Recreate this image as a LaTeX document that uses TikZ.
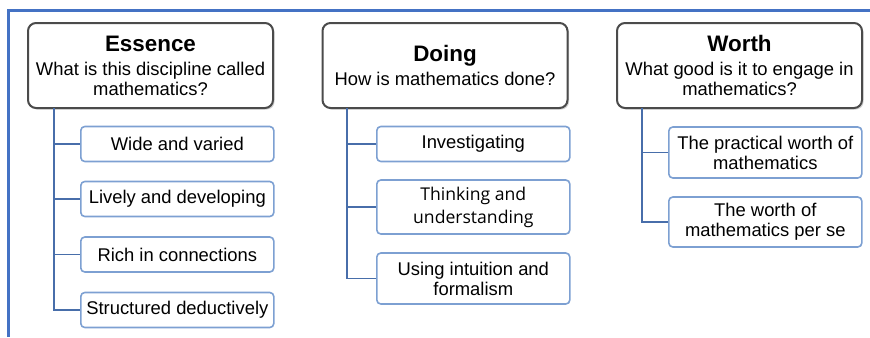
\documentclass[tikz,border=0pt]{standalone}
\usepackage{fontspec}
\setmainfont{Liberation Sans}
\newfontfamily\opensans{Open Sans}
\usepackage{tikz}
\usetikzlibrary{calc}
\usetikzlibrary{shadows}
\usetikzlibrary{positioning}
\definecolor{framebl}{HTML}{4472C4}
\definecolor{linkbl}{RGB}{72,110,170}
\definecolor{leafbl}{RGB}{125,160,210}
\definecolor{headgr}{RGB}{75,75,75}
\tikzstyle{head}=[draw=headgr,line width=1pt,rounded corners=4pt,fill=white,
                align=center,minimum width=122.5pt,minimum height=42.5pt,inner sep=1pt,
                font=\fontsize{9.2}{10}\selectfont,
                drop shadow={opacity=0.35,shadow xshift=0.8pt,shadow yshift=-0.8pt}]
\tikzstyle{leaf}=[draw=leafbl,line width=0.8pt,rounded corners=2pt,fill=white,
                align=center,minimum width=96.5pt,minimum height=17.5pt,inner sep=2pt,
                font=\fontsize{9.2}{10}\selectfont,anchor=west]
\tikzstyle{link}=[draw=linkbl,line width=0.9pt]
\newcommand{\headtitle}[1]{{\fontsize{11.2}{12}\selectfont\bfseries #1}}

\begin{document}
\begin{tikzpicture}[x=0.5pt,y=-0.5pt]
\useasboundingbox (0,0) rectangle (870,337);
\draw[framebl,line width=1.5pt] (870,10) -- (8,10) -- (8,337);
\node[head] (essence) at (150.5,65.5) {\headtitle{Essence}\\[2pt]What is this discipline called\\mathematics?};
\node[head] (doing) at (445,65.5) {\headtitle{Doing}\\[2pt]How is mathematics done?};
\node[head] (worth) at (739.5,65.5) {\headtitle{Worth}\\[2pt]What good is it to engage in\\mathematics?};
\coordinate (essroot) at (54,108);
\coordinate (doroot) at (347,108);
\coordinate (woroot) at (642,108);
\node[leaf] (wide) at (80,144) {Wide and varied};
\node[leaf] (lively) at (80,199) {Lively and developing};
\node[leaf] (rich) at (80,254.5) {Rich in connections};
\node[leaf] (struct) at (80,310) {Structured deductively};
\node[leaf] (invest) at (376,144) {Investigating};
\node[leaf,minimum height=27pt,font=\opensans\fontsize{8.8}{11.5}\selectfont] (think) at (376,207) {Thinking and\\understanding};
\node[leaf,minimum height=25.5pt] (intuit) at (376,278.5) {Using intuition and\\formalism};
\node[leaf,minimum height=25.5pt] (practical) at (668,152.5) {The practical worth of\\mathematics};
\node[leaf,minimum height=25pt] (perse) at (668,222) {The worth of\\mathematics per se};
\draw[link] (essroot) |- (wide.west);
\draw[link] (essroot) |- (lively.west);
\draw[link] (essroot) |- (rich.west);
\draw[link] (essroot) |- (struct.west);
\draw[link] (doroot) |- (invest.west);
\draw[link] (doroot) |- (think.west);
\draw[link] (doroot) |- (intuit.west);
\draw[link] (woroot) |- (practical.west);
\draw[link] (woroot) |- (perse.west);
\end{tikzpicture}
\end{document}
